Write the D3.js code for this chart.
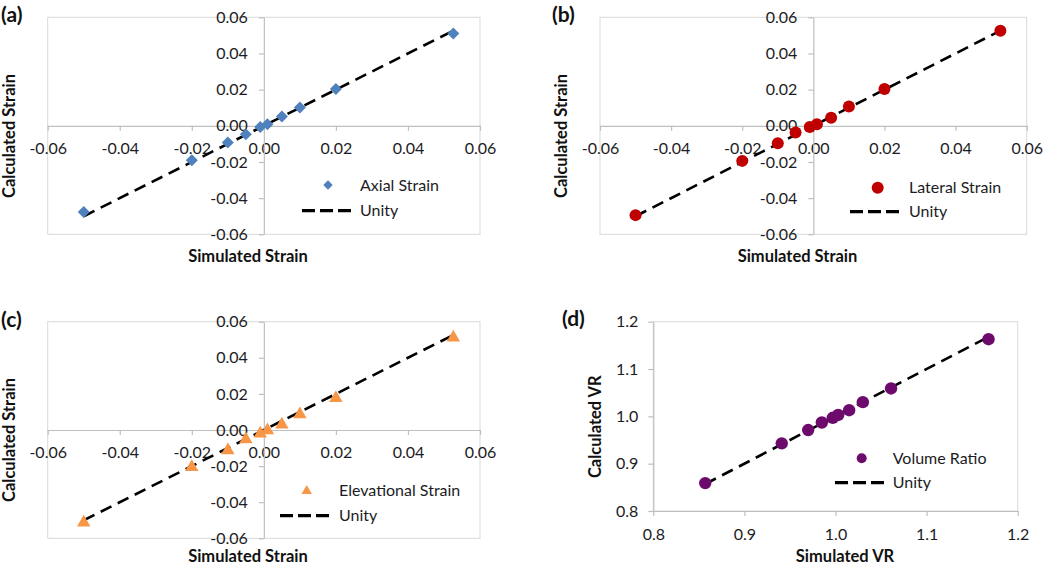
<!DOCTYPE html>
<html><head><meta charset="utf-8">
<script src="https://cdn.jsdelivr.net/npm/d3@7"></script>
<style>body{margin:0;background:#fff;} text{font-family:Lato,"Open Sans",sans-serif;}</style>
</head><body><svg id="chart" width="1050" height="565"></svg>
<script>
// ---- data ----
const simStrain   = [-0.05, -0.02, -0.01, -0.005, -0.001, 0.001, 0.005, 0.01, 0.02, 0.0526];
const axialCalc   = [-0.0476, -0.0190, -0.0093, -0.0047, -0.0006, 0.0009, 0.0052, 0.0101, 0.0203, 0.0511];
const lateralCalc = [-0.0494, -0.0194, -0.0097, -0.0037, -0.0006, 0.0009, 0.0044, 0.0107, 0.0203, 0.0525];
const elevCalc    = [-0.0505, -0.0198, -0.0105, -0.0044, -0.0013, 0.0005, 0.0037, 0.0094, 0.0184, 0.0519];
const simVR  = [0.857, 0.941, 0.970, 0.985, 0.997, 1.003, 1.015, 1.030, 1.061, 1.168];
const calcVR = [0.859, 0.943, 0.971, 0.987, 0.997, 1.003, 1.013, 1.030, 1.059, 1.163];
const strainTicks = [-0.06, -0.04, -0.02, 0, 0.02, 0.04, 0.06];
const vrTicks = [0.8, 0.9, 1.0, 1.1, 1.2];
const seriesNames = ["Axial Strain", "Lateral Strain", "Elevational Strain", "Volume Ratio"];
const unityName = "Unity";
const panelLabels = ["(a)", "(b)", "(c)", "(d)"];
const xTitles = ["Simulated Strain", "Simulated Strain", "Simulated Strain", "Simulated VR"];
const yTitles = ["Calculated Strain", "Calculated Strain", "Calculated Strain", "Calculated VR"];

const svg = d3.select("#chart");
const TXT = "#1c1c24";
const TICK_FS = 16, TITLE_FS = 16.5, LEG_FS = 16;

const shapes = {
  diamond: s => `M0,${-s}L${s},0L0,${s}L${-s},0Z`,
  triangle: s => `M0,${-s*1.05}L${s*1.08},${s*0.85}L${-s*1.08},${s*0.85}Z`,
  circle: s => d3.symbol(d3.symbolCircle, Math.PI*s*s)()
};

const panels = [
  {l:47.7, r:480, t:17.3, b:234.3, xs:simStrain, ys:axialCalc, ticks:strainTicks, dom:[-0.06,0.06], cross:true, fmt:d=>d.toFixed(2),
   shape:"diamond", size:6, lsize:4.7, color:"#4f81bd",
   lab:[1,22], yt:[9.5,136], xt:[248,256], leg:{mx:328,my:185,tx:360,l1:302,l2:353,ly:210.7}},
  {l:600, r:1026.7, t:17.3, b:234.3, xs:simStrain, ys:lateralCalc, ticks:strainTicks, dom:[-0.06,0.06], cross:true, fmt:d=>d.toFixed(2),
   shape:"circle", size:6, lsize:6, color:"#c00000",
   lab:[552,22], yt:[561,136], xt:[797.5,256], leg:{mx:877.7,my:187.7,tx:909,l1:850,l2:903.3,ly:211.7}},
  {l:47.7, r:480, t:321.7, b:538.3, xs:simStrain, ys:elevCalc, ticks:strainTicks, dom:[-0.06,0.06], cross:true, fmt:d=>d.toFixed(2),
   shape:"triangle", size:6.2, lsize:4.8, color:"#f79646",
   lab:[1,327], yt:[9.5,440], xt:[248,556.7], leg:{mx:306.7,my:490,tx:339,l1:280,l2:333.3,ly:515.7}},
  {l:653.3, r:1017.7, t:321.7, b:511, xs:simVR, ys:calcVR, ticks:vrTicks, dom:[0.8,1.2], cross:false, fmt:d=>d.toFixed(1),
   shape:"circle", size:6.2, lsize:5, color:"#6d0b6d",
   lab:[562,325.5], yt:[595,426.7], xt:[845,556.7], leg:{mx:861.7,my:458.3,tx:892.7,l1:835,l2:886.7,ly:482.7}}
];

panels.forEach((p, i) => {
  const g = svg.append("g");
  const x = d3.scaleLinear().domain(p.dom).range([p.l, p.r]);
  const y = d3.scaleLinear().domain(p.dom).range([p.b, p.t]);

  g.append("rect").attr("x", p.l).attr("y", p.t).attr("width", p.r - p.l).attr("height", p.b - p.t)
    .attr("fill", "none").attr("stroke", "#d9d9d9").attr("stroke-width", 1);

  const axY = p.cross ? y(0) : p.b;
  const axX = p.cross ? x(0) : p.l;
  const xa = g.append("g").attr("transform", `translate(0,${axY})`)
    .call(d3.axisBottom(x).tickValues(p.ticks).tickFormat(p.fmt).tickSize(5).tickSizeOuter(0)
      .tickPadding(p.cross ? 12 : 13));
  const ya = g.append("g").attr("transform", `translate(${axX},0)`)
    .call(d3.axisLeft(y).tickValues(p.ticks).tickFormat(p.fmt).tickSize(5).tickSizeOuter(0)
      .tickPadding(p.cross ? 11 : 10));
  [xa, ya].forEach(a => {
    a.select(".domain").attr("stroke", "#bfbfbf").attr("stroke-width", 1.2);
    a.selectAll(".tick line").attr("stroke", "#bfbfbf").attr("stroke-width", 1.2);
    a.selectAll(".tick text").attr("fill", TXT).style("font-size", TICK_FS + "px").style("font-family", "Lato");
  });

  // titles
  g.append("text").attr("x", p.lab[0]).attr("y", p.lab[1])
    .attr("font-size", 21).attr("font-weight", "bold").attr("fill", "#111").text(panelLabels[i]);
  g.append("text").attr("transform", `translate(${p.yt[0]},${p.yt[1]}) rotate(-90)`).attr("dy", "0.35em")
    .attr("text-anchor", "middle").attr("font-size", TITLE_FS).attr("font-weight", "bold").attr("fill", "#111").text(yTitles[i]);
  g.append("text").attr("x", p.xt[0]).attr("y", p.xt[1]).attr("dy", "0.35em")
    .attr("text-anchor", "middle").attr("font-size", TITLE_FS).attr("font-weight", "bold").attr("fill", "#111").text(xTitles[i]);

  // unity line
  const ext = d3.extent(p.xs);
  g.append("line").attr("x1", x(ext[0])).attr("y1", y(ext[0])).attr("x2", x(ext[1])).attr("y2", y(ext[1]))
    .attr("stroke", "#000").attr("stroke-width", 2.6).attr("stroke-dasharray", "12,7");

  // markers
  const pts = p.xs.map((v, k) => [v, p.ys[k]]);
  g.selectAll("path.pt").data(pts).enter().append("path").attr("class", "pt")
    .attr("d", shapes[p.shape](p.size)).attr("fill", p.color)
    .attr("transform", d => `translate(${x(d[0])},${y(d[1])})`);

  // legend
  const L = p.leg;
  g.append("path").attr("d", shapes[p.shape](p.lsize)).attr("fill", p.color)
    .attr("transform", `translate(${L.mx},${L.my})`);
  g.append("text").attr("x", L.tx).attr("y", L.my).attr("dy", "0.35em").attr("font-size", LEG_FS).attr("fill", TXT).text(seriesNames[i]);
  g.append("line").attr("x1", L.l1).attr("x2", L.l2).attr("y1", L.ly).attr("y2", L.ly)
    .attr("stroke", "#000").attr("stroke-width", 3.2).attr("stroke-dasharray", "13,5");
  g.append("text").attr("x", L.tx).attr("y", L.ly).attr("dy", "0.35em").attr("font-size", LEG_FS).attr("fill", TXT).text(unityName);
});
</script></body></html>
